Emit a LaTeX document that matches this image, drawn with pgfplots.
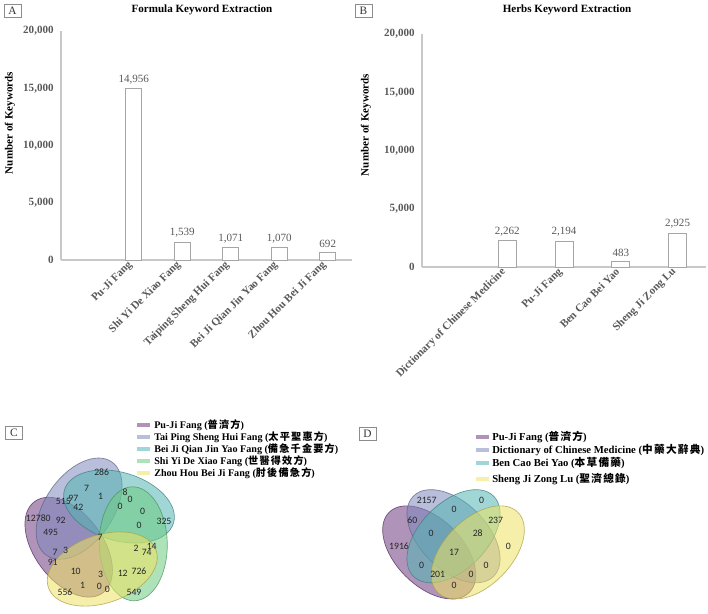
\documentclass[border=0pt]{standalone}
\usepackage{fontspec}
\setmainfont{Liberation Serif}
\newfontfamily\cjk[LetterSpace=12]{Noto Sans CJK TC}
\newfontfamily\numfont{Carlito}
\usepackage{pgfplots}
\pgfplotsset{compat=1.18}

\definecolor{txtgray}{HTML}{595959}
\definecolor{axgray}{HTML}{C8C8C8}
\definecolor{bargray}{HTML}{A6A6A6}
\definecolor{vpurple}{HTML}{6E3A80}
\definecolor{vblue}{HTML}{7F88BB}
\definecolor{vteal}{HTML}{52B5B2}
\definecolor{vgreen}{HTML}{6CCC80}
\definecolor{vyellow}{HTML}{EEE262}

\pgfplotsset{
  keybars/.style={
    scale only axis,
    axis x line*=bottom, axis y line*=left,
    axis line style={draw=axgray, line width=0.9pt},
    major tick length=0pt,
    ymin=0, ymax=20000, ytick={0,5000,10000,15000,20000},
    scaled y ticks=false,
    /pgf/number format/1000 sep={,},
    /pgf/number format/assume math mode=true,
    yticklabel style={font=\bfseries\fontsize{8.3}{10}\selectfont, text=txtgray, xshift=-2pt},
    xticklabel style={font=\bfseries\fontsize{8.3}{10}\selectfont, text=txtgray, rotate=45, anchor=east},
    xtick=data,
    ybar,
    nodes near coords,
    every node near coord/.append style={font=\fontsize{8.3}{10}\selectfont, text=txtgray},
    clip=false,
  },
  keybar plot/.style={draw=bargray, fill=white, line width=0.6pt},
  venn/.style={x=0.75pt, y=0.75pt, axis lines=none, clip=false, anchor=south west},
  venn numbers/.style={draw=none, mark=none, nodes near coords, point meta=explicit symbolic,
    every node near coord/.append style={anchor=center, inner sep=0pt,
      font=\numfont\fontsize{7.3}{8}\selectfont, text=black!85}},
}

% one translucent set of a Venn diagram: colour, centre x, centre y, angle, semi-axes
\newcommand\vset[6]{%
  \filldraw[fill=#1, fill opacity=0.55, draw=#1!70!black, draw opacity=0.75, line width=0.5pt,
    rotate around={#4:(axis cs:#2,#3)}] (axis cs:#2,#3) ellipse [x radius=#5, y radius=#6];}

\begin{document}
\begin{tikzpicture}
\begin{scope}[x=0.75pt, y=-0.75pt]
  \useasboundingbox (0,0) rectangle (708,614);
\end{scope}

% ---------- A: formula keywords ----------
\begin{axis}[keybars, at={(45.75pt,-195pt)}, anchor=south west,
  width=218.25pt, height=171.75pt, xmin=-0.5, xmax=5.5, bar width=12pt,
  xticklabels={Pu-Ji Fang, Shi Yi De Xiao Fang, Taiping Sheng Hui Fang,
    Bei Ji Qian Jin Yao Fang, Zhou Hou Bei Ji Fang}]
\addplot[keybar plot] table {
x y
1 14956
2 1539
3 1071
4 1070
5 692
};
\end{axis}

% ---------- B: herb keywords ----------
\begin{axis}[keybars, at={(316.5pt,-200.25pt)}, anchor=south west,
  width=213pt, height=174.75pt, xmin=-0.5, xmax=4.5, bar width=13.5pt,
  xticklabels={Dictionary of Chinese Medicine, Pu-Ji Fang, Ben Cao Bei Yao, Sheng Ji Zong Lu}]
\addplot[keybar plot] table {
x y
1 2262
2 2194
3 483
4 2925
};
\end{axis}

% ---------- C: five-set Venn ----------
\begin{axis}[venn, at={(0pt,-460.5pt)}, xmin=0, xmax=354, ymin=-614, ymax=-440]
\vset{vpurple}{68.7}{-547.2}{127}{57}{34}
\vset{vblue}{79.1}{-508.6}{55}{57}{34}
\vset{vteal}{119.0}{-506.5}{-17}{57}{34}
\vset{vgreen}{133.3}{-543.8}{-89}{57}{34}
\vset{vyellow}{102.3}{-569.0}{-161}{57}{34}
\addplot[venn numbers] table[meta=n] {
x y n
101.7 -472 286
86.7 -488.3 7
100.7 -496.7 1
125 -492.3 8
130 -499 0
63.3 -501.7 515
73.3 -498.3 97
78.3 -507.7 42
120 -506.7 0
142.7 -511 0
38.3 -518 12780
60.7 -520.5 92
164 -521 325
139 -525 0
50.7 -532.5 495
100 -537 7
136 -548 2
151.7 -546 14
146.7 -552.5 74
55 -552.3 7
65.7 -550 3
52.7 -562.3 91
75.7 -571.7 10
100.7 -574.5 3
122.7 -573.3 12
139 -571 726
82.7 -585.7 1
99.3 -586 0
107.3 -589 0
65 -592 556
134 -592 549
};
\end{axis}

% ---------- D: four-set Venn ----------
\begin{axis}[venn, at={(265.5pt,-460.5pt)}, xmin=354, xmax=708, ymin=-614, ymax=-440]
\vset{vpurple}{429.2}{-552.4}{-45}{56.7}{33.5}
\vset{vblue}{453.5}{-536.2}{-45}{56.7}{33.5}
\vset{vteal}{453.5}{-536.2}{45}{56.7}{33.5}
\vset{vyellow}{477.8}{-552.4}{45}{56.7}{33.5}
\addplot[venn numbers] table[meta=n] {
x y n
426.7 -500 2157
481.7 -500 0
454 -509.3 0
412.3 -520 60
495.7 -520 237
431 -533.3 0
477.7 -533.3 28
399 -546.7 1916
508.3 -546.7 0
454 -552.7 17
421.7 -565 0
486 -565 0
437.7 -574 201
471 -574 0
454 -585 0
};
\end{axis}

% ---------- titles, panel letters and legends ----------
\begin{scope}[x=0.75pt, y=-0.75pt]
  \node[font=\bfseries\fontsize{8.3}{10}\selectfont] at (202,10) {Formula Keyword Extraction};
  \node[font=\bfseries\fontsize{8.3}{10}\selectfont] at (567,10) {Herbs Keyword Extraction};
  \node[font=\bfseries\fontsize{8.3}{10}\selectfont, rotate=90] at (10,123) {Number of Keywords};
  \node[font=\bfseries\fontsize{8.3}{10}\selectfont, rotate=90] at (366,125) {Number of Keywords};
  \tikzset{panel/.style={draw=black!45, line width=0.5pt, minimum width=12.75pt,
      minimum height=9.75pt, inner sep=0pt, font=\fontsize{8.5}{10}\selectfont, text=black!80}}
  \node[panel] at (12.5,10.5) {A};
  \node[panel] at (363.5,10.5) {B};
  \node[panel] at (14,433) {C};
  \node[panel] at (367.5,433.5) {D};

  \tikzset{sw/.style={fill=#1, fill opacity=0.55, draw=none}}
  % legend of C
  \foreach \c/\yy/\t in {vpurple/425/{Pu-Ji Fang ({\cjk 普濟方})},
      vblue/437/{Tai Ping Sheng Hui Fang ({\cjk 太平聖惠方})},
      vteal/449/{Bei Ji Qian Jin Yao Fang ({\cjk 備急千金要方})},
      vgreen/461/{Shi Yi De Xiao Fang ({\cjk 世醫得效方})},
      vyellow/473/{Zhou Hou Bei Ji Fang ({\cjk 肘後備急方})}} {
    \fill[sw=\c] (137,\yy-2) rectangle (150,\yy+2);
    \node[anchor=west, inner sep=0pt, font=\bfseries\fontsize{7.6}{9}\selectfont] at (154,\yy) {\t};
  }
  % legend of D
  \foreach \c/\yy/\t in {vpurple/437/{Pu-Ji Fang ({\cjk 普濟方})},
      vblue/450/{Dictionary of Chinese Medicine ({\cjk 中藥大辭典})},
      vteal/463/{Ben Cao Bei Yao ({\cjk 本草備藥})},
      vyellow/479/{Sheng Ji Zong Lu ({\cjk 聖濟總錄})}} {
    \fill[sw=\c] (476,\yy-2) rectangle (489,\yy+2);
    \node[anchor=west, inner sep=0pt, font=\bfseries\fontsize{8}{9}\selectfont] at (492,\yy) {\t};
  }
\end{scope}
\end{tikzpicture}
\end{document}
